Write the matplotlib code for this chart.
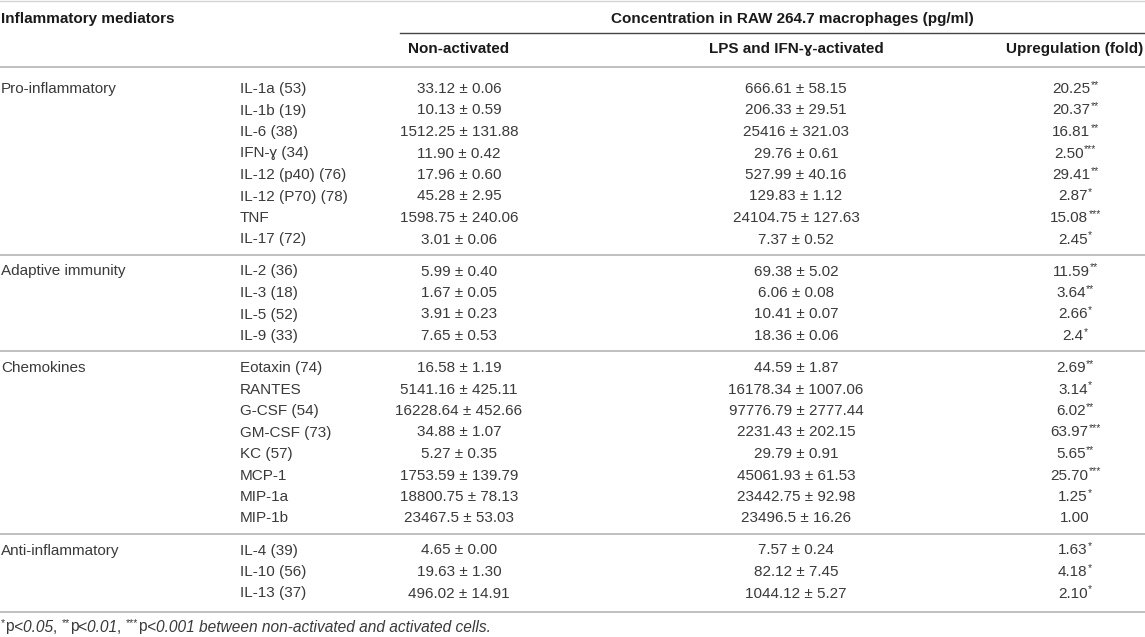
import matplotlib
matplotlib.use("Agg")
import matplotlib.pyplot as plt

plt.rcParams['font.family'] = ['Liberation Sans', 'DejaVu Sans']

# ---- datos de la tabla ----
groups = ["Pro-inflammatory", "Adaptive immunity", "Chemokines", "Anti-inflammatory"]
group_sizes = [8, 4, 8, 3]

mediators = [
    "IL-1a (53)", "IL-1b (19)", "IL-6 (38)", "IFN-ɣ (34)", "IL-12 (p40) (76)",
    "IL-12 (P70) (78)", "TNF", "IL-17 (72)",
    "IL-2 (36)", "IL-3 (18)", "IL-5 (52)", "IL-9 (33)",
    "Eotaxin (74)", "RANTES", "G-CSF (54)", "GM-CSF (73)", "KC (57)", "MCP-1",
    "MIP-1a", "MIP-1b",
    "IL-4 (39)", "IL-10 (56)", "IL-13 (37)",
]
nonact_mean = ["33.12", "10.13", "1512.25", "11.90", "17.96", "45.28", "1598.75", "3.01",
               "5.99", "1.67", "3.91", "7.65",
               "16.58", "5141.16", "16228.64", "34.88", "5.27", "1753.59", "18800.75", "23467.5",
               "4.65", "19.63", "496.02"]
nonact_sd = ["0.06", "0.59", "131.88", "0.42", "0.60", "2.95", "240.06", "0.06",
             "0.40", "0.05", "0.23", "0.53",
             "1.19", "425.11", "452.66", "1.07", "0.35", "139.79", "78.13", "53.03",
             "0.00", "1.30", "14.91"]
act_mean = ["666.61", "206.33", "25416", "29.76", "527.99", "129.83", "24104.75", "7.37",
            "69.38", "6.06", "10.41", "18.36",
            "44.59", "16178.34", "97776.79", "2231.43", "29.79", "45061.93", "23442.75", "23496.5",
            "7.57", "82.12", "1044.12"]
act_sd = ["58.15", "29.51", "321.03", "0.61", "40.16", "1.12", "127.63", "0.52",
          "5.02", "0.08", "0.07", "0.06",
          "1.87", "1007.06", "2777.44", "202.15", "0.91", "61.53", "92.98", "16.26",
          "0.24", "7.45", "5.27"]
fold = ["20.25", "20.37", "16.81", "2.50", "29.41", "2.87", "15.08", "2.45",
        "11.59", "3.64", "2.66", "2.4",
        "2.69", "3.14", "6.02", "63.97", "5.65", "25.70", "1.25", "1.00",
        "1.63", "4.18", "2.10"]
stars = ["**", "**", "**", "***", "**", "*", "***", "*",
         "**", "**", "*", "*",
         "**", "*", "**", "***", "**", "***", "*", "",
         "*", "*", "*"]

W, H = 1145, 637
fs = 11.0
txt_color = '#3a3a3a'
head_color = '#1a1a1a'
rule_color = '#b5b5b5'

fig = plt.figure(figsize=(W / 100, H / 100), dpi=100)
ax = fig.add_axes([0, 0, 1, 1])
ax.set_xlim(0, W)
ax.set_ylim(H, 0)
ax.axis('off')
renderer = fig.canvas.get_renderer()

x_group, x_med = 1, 240
x_non, x_act, x_fold = 459, 796, 1075

# Encabezados
ax.plot([0, W], [1, 1], color='#d5d5d5', lw=1)
ax.text(x_group, 19, "Inflammatory mediators", fontsize=fs, fontweight='bold',
        color=head_color, va='center', ha='left')
ax.text(792, 19, "Concentration in RAW 264.7 macrophages (pg/ml)", fontsize=fs,
        fontweight='bold', color=head_color, va='center', ha='center')
ax.plot([400, W], [32.5, 32.5], color='#444444', lw=1)
ax.text(x_non, 49, "Non-activated", fontsize=fs, fontweight='bold',
        color=head_color, va='center', ha='center')
ax.text(x_act, 49, "LPS and IFN-ɣ-activated", fontsize=fs, fontweight='bold',
        color=head_color, va='center', ha='center')
ax.text(x_fold, 49, "Upregulation (fold)", fontsize=fs, fontweight='bold',
        color=head_color, va='center', ha='center')
ax.plot([0, W], [66.5, 66.5], color=rule_color, lw=1.2)


def fold_cell(xc, yc, value, st):
    # valor + asteriscos en superíndice, centrado como un bloque
    t1 = ax.text(0, yc, value, fontsize=fs, color=txt_color, va='center', ha='left')
    w1 = t1.get_window_extent(renderer).width
    w2 = 0
    t2 = None
    if st:
        t2 = ax.text(0, yc - 4, st, fontsize=fs * 0.68, color=txt_color,
                     va='center', ha='left')
        w2 = t2.get_window_extent(renderer).width
    x0 = xc - (w1 + w2) / 2
    t1.set_x(x0)
    if t2 is not None:
        t2.set_x(x0 + w1 + 0.5)


# Filas
pitch = 21.5
y = 89
i = 0
for g, n in zip(groups, group_sizes):
    ax.text(x_group, y, g, fontsize=fs, color=txt_color, va='center', ha='left')
    for k in range(n):
        ax.text(x_med, y, mediators[i], fontsize=fs, color=txt_color, va='center', ha='left')
        ax.text(x_non, y, f"{nonact_mean[i]} ± {nonact_sd[i]}", fontsize=fs,
                color=txt_color, va='center', ha='center')
        ax.text(x_act, y, f"{act_mean[i]} ± {act_sd[i]}", fontsize=fs,
                color=txt_color, va='center', ha='center')
        fold_cell(x_fold, y, fold[i], stars[i])
        i += 1
        if k < n - 1:
            y += pitch
    if g != groups[-1]:
        ax.plot([0, W], [y + 15, y + 15], color=rule_color, lw=1.2)
        y += 32
    else:
        ax.plot([0, W], [y + 18.5, y + 18.5], color=rule_color, lw=1.2)

# Nota al pie (segmentos con cursiva)
foot = [("*", 'sup'), ("p", 'normal'), ("<0.05", 'italic'), (", ", 'normal'),
        ("**", 'sup'), ("p", 'normal'), ("<0.01", 'italic'), (", ", 'normal'),
        ("***", 'sup'), ("p", 'normal'),
        ("<0.001 between non-activated and activated cells.", 'italic')]
fx, fy = 1, 627
ffs = 11.2
for s, kind in foot:
    if kind == 'sup':
        t = ax.text(fx, fy - 3.5, s, fontsize=ffs * 0.68, color=txt_color, va='center', ha='left')
    else:
        t = ax.text(fx, fy, s, fontsize=ffs, color=txt_color, va='center', ha='left',
                    style='italic' if kind == 'italic' else 'normal')
    fx += t.get_window_extent(renderer).width

fig.savefig("out.png", dpi=100)
